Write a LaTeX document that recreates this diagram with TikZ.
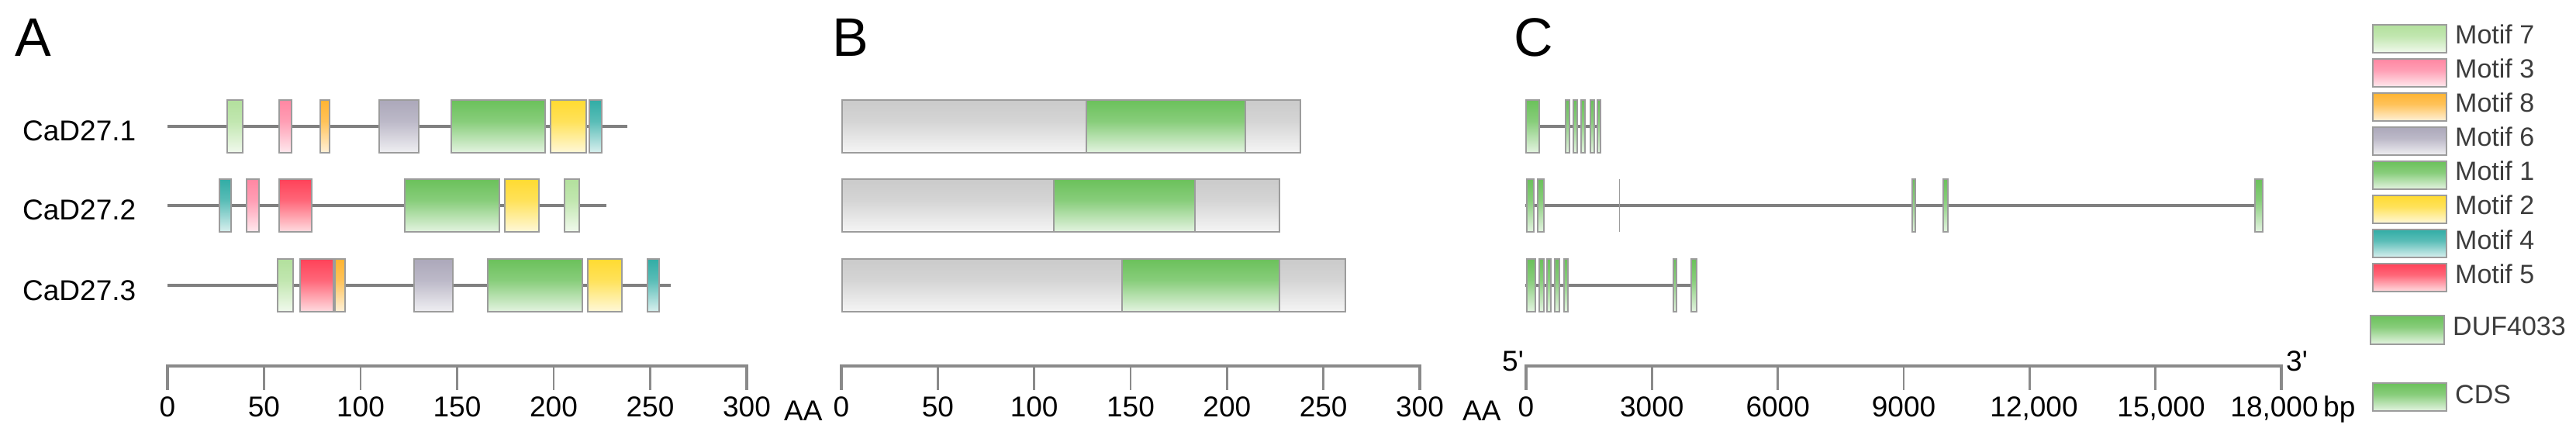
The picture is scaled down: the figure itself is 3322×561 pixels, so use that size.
\documentclass[tikz,border=0pt]{standalone}
\usepackage{fontspec}
\setmainfont{Liberation Sans}
\definecolor{m7}{HTML}{A0D985}
\definecolor{m3}{HTML}{FF6A8C}
\definecolor{m8}{HTML}{FFA200}
\definecolor{m6}{HTML}{9893AA}
\definecolor{m1}{HTML}{47B233}
\definecolor{m2}{HTML}{FFD200}
\definecolor{m4}{HTML}{009990}
\definecolor{m5}{HTML}{FF1430}
\definecolor{gb}{HTML}{BEBEBE}
\definecolor{bordergray}{HTML}{9C9C9C}
\definecolor{linegray}{HTML}{808080}
\definecolor{axisgray}{HTML}{8A8A8A}
\definecolor{legtext}{HTML}{3C3C3C}
\colorlet{shcol}{m1}
\colorlet{shmid}{m1!65!white}
\pgfdeclareverticalshading[shcol,shmid]{fade}{100bp}{color(0bp)=(white); color(16bp)=(white); color(55bp)=(shmid); color(100bp)=(shcol)}
\tikzset{
  mbox/.style={draw=bordergray, line width=1.6pt, /utils/exec={\colorlet{shcol}{#1}\colorlet{shmid}{#1!65!white}}, shading=fade},
  ebox/.style={draw=bordergray, line width=1.2pt, /utils/exec={\colorlet{shcol}{m1}\colorlet{shmid}{m1!65!white}}, shading=fade},
  gline/.style={draw=linegray, line width=4.5pt},
  axisline/.style={draw=axisgray, line width=3.4pt},
  axtick/.style={draw=axisgray, line width=2.6pt},
  lbl/.style={font=\fontsize{37}{40}\selectfont, inner sep=0pt},
  big/.style={font=\fontsize{70}{72}\selectfont, inner sep=0pt, anchor=base west},
  leg/.style={font=\fontsize{34}{36}\selectfont, inner sep=0pt, anchor=base west, text=legtext},
}
\newcommand{\mtf}[5]{\path[mbox=#1] (#2,#4) rectangle (#3,#5);}
\newcommand{\exon}[4]{\path[ebox] (#1,#3) rectangle (#2,#4);}
\begin{document}
\begin{tikzpicture}[x=1pt,y=-1pt]
\useasboundingbox (0,0) rectangle (3322,561);
% panel letters
\node[big] (lA) at (19,73) {A};
\node[big] (lB) at (1073,73) {B};
\node[big] (lC) at (1952,73) {C};
% ---------- panel A ----------
\node[lbl, anchor=base west] (n1) at (29,182) {CaD27.1};
\node[lbl, anchor=base west] (n2) at (29,284) {CaD27.2};
\node[lbl, anchor=base west] (n3) at (29,387) {CaD27.3};
\draw[gline] (216,163) -- (809,163);
\draw[gline] (216,265) -- (782,265);
\draw[gline] (216,368) -- (865,368);
% row 1
\mtf{m7}{293}{313}{129}{197}
\mtf{m3}{360}{376}{129}{197}
\mtf{m8}{413}{425}{129}{197}
\mtf{m6}{489}{540}{129}{197}
\mtf{m1}{582}{703}{129}{197}
\mtf{m2}{710}{756}{129}{197}
\mtf{m4}{760}{776}{129}{197}
% row 2
\mtf{m4}{283}{298}{231}{299}
\mtf{m3}{318}{334}{231}{299}
\mtf{m5}{360}{402}{231}{299}
\mtf{m1}{522}{644}{231}{299}
\mtf{m2}{651}{695}{231}{299}
\mtf{m7}{728}{747}{231}{299}
% row 3
\mtf{m7}{358}{378}{334}{402}
\mtf{m5}{387}{430}{334}{402}
\mtf{m8}{432}{445}{334}{402}
\mtf{m6}{534}{584}{334}{402}
\mtf{m1}{629}{751}{334}{402}
\mtf{m2}{758}{802}{334}{402}
\mtf{m4}{835}{850}{334}{402}
% axis A
\draw[axisline] (216,503) -- (216,472) -- (963,472) -- (963,503);
\foreach \i/\t in {0/0,1/50,2/100,3/150,4/200,5/250,6/300}{
  \draw[axtick] ({216+124.5*\i},472) -- ({216+124.5*\i},503);
  \node[lbl, anchor=base] (ta\i) at ({216+124.5*\i},537) {\t};
}
\node[lbl, anchor=base west] (aaA) at (1011,542) {AA};
% ---------- panel B ----------
\mtf{gb}{1086}{1401}{129}{197}
\mtf{m1}{1401}{1606}{129}{197}
\mtf{gb}{1606}{1677}{129}{197}
\mtf{gb}{1086}{1359}{231}{299}
\mtf{m1}{1359}{1541}{231}{299}
\mtf{gb}{1541}{1650}{231}{299}
\mtf{gb}{1086}{1447}{334}{402}
\mtf{m1}{1447}{1650}{334}{402}
\mtf{gb}{1650}{1735}{334}{402}
\draw[axisline] (1085,503) -- (1085,472) -- (1831,472) -- (1831,503);
\foreach \i/\t in {0/0,1/50,2/100,3/150,4/200,5/250,6/300}{
  \draw[axtick] ({1085+124.33*\i},472) -- ({1085+124.33*\i},503);
  \node[lbl, anchor=base] (tb\i) at ({1085+124.33*\i},537) {\t};
}
\node[lbl, anchor=base west] (aaB) at (1886,542) {AA};
% ---------- panel C ----------
\draw[gline] (1967,163) -- (2065,163);
\draw[gline] (1967,265) -- (2918,265);
\draw[gline] (1967,368) -- (2189,368);
\exon{1968}{1985}{129}{197}
\exon{2019}{2024}{129}{197}
\exon{2029}{2034}{129}{197}
\exon{2039}{2044}{129}{197}
\exon{2051}{2056}{129}{197}
\exon{2060}{2064}{129}{197}
\exon{1969}{1978}{231}{299}
\exon{1983}{1991}{231}{299}
\draw[draw=bordergray, line width=0.8pt] (2088,231) -- (2088,299);
\exon{2466}{2470}{231}{299}
\exon{2506}{2512}{231}{299}
\exon{2908}{2918}{231}{299}
\exon{1969}{1980}{334}{402}
\exon{1985}{1991}{334}{402}
\exon{1995}{2000}{334}{402}
\exon{2005}{2011}{334}{402}
\exon{2017}{2022}{334}{402}
\exon{2158}{2162}{334}{402}
\exon{2181}{2188}{334}{402}
\draw[axisline] (1968,503) -- (1968,472) -- (2942,472) -- (2942,503);
\foreach \i in {1,...,5}{
  \draw[axtick] ({1968+162.33*\i},472) -- ({1968+162.33*\i},503);
}
\node[lbl, anchor=base] (tc0) at (1968,537) {0};
\node[lbl, anchor=base] (tc1) at (2130.3,537) {3000};
\node[lbl, anchor=base] (tc2) at (2292.7,537) {6000};
\node[lbl, anchor=base] (tc3) at (2455,537) {9000};
\node[lbl, anchor=base] (tc4) at (2623,537) {12,000};
\node[lbl, anchor=base] (tc5) at (2787,537) {15,000};
\node[lbl, anchor=base] (tc6) at (2933,537) {18,000};
\node[lbl, anchor=base west] (bp) at (2996,537) {bp};
\node[lbl, anchor=base east] (five) at (1965,478) {5\textquotesingle};
\node[lbl, anchor=base west] (three) at (2948,478) {3\textquotesingle};
% ---------- legend ----------
\foreach \c/\t [count=\k from 0] in {m7/7,m3/3,m8/8,m6/6,m1/1,m2/2,m4/4,m5/5}{
  \path[mbox=\c] (3060,{32+44*\k}) rectangle (3155,{68+44*\k});
  \node[leg] (lg\k) at (3166,{57+44*\k}) {Motif \t};
}
\path[mbox=m1] (3057,407) rectangle (3152,444);
\node[leg] (lduf) at (3163,432) {DUF4033};
\path[mbox=m1] (3060,494) rectangle (3155,530);
\node[leg] (lcds) at (3166,520) {CDS};
\end{tikzpicture}
\end{document}
